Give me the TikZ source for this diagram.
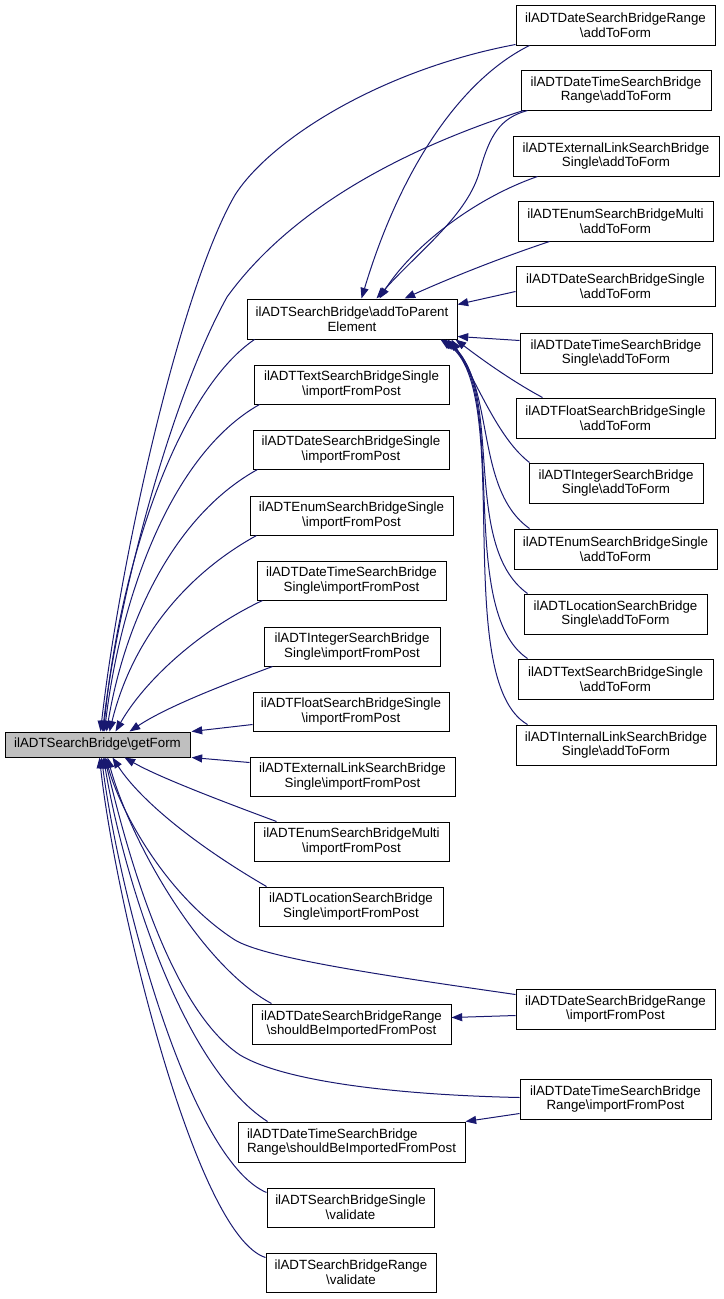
\documentclass[tikz,border=0pt]{standalone}
\usepackage{fontspec}
\setmainfont{Liberation Sans}
\usetikzlibrary{arrows.meta,calc}
\definecolor{edgeblue}{HTML}{191970}
\definecolor{gfgray}{HTML}{BFBFBF}
\tikzset{
  box/.style={draw=black, line width=0.75pt, fill=white, inner sep=0pt, align=center,
    font=\fontsize{10pt}{11pt}\selectfont},
  edge/.style={draw=edgeblue, line width=0.75pt, -{Triangle[length=8pt,width=6pt]}}
}
\newcommand\bx[7][]{\node[box,#1,minimum width={(#5-#3)*0.75pt},minimum height={(#6-#4)*0.75pt}] (#2) at ({(#3+#5)/2},{(#4+#6)/2}) {#7};}
\newcommand\bs{\textbackslash}
\begin{document}
\begin{tikzpicture}[x=0.75pt,y=-0.75pt]
\useasboundingbox (0,0) rectangle (724,1299);
% left
\bx[fill=gfgray]{gf}{5}{732}{190}{757}{ilADTSearchBridge\bs getForm}
% middle
\bx{atp}{247}{299}{457}{339}{ilADTSearchBridge\bs addToParent\\Element}
\bx{i1}{254}{365}{449}{404}{ilADTTextSearchBridgeSingle\\\bs importFromPost}
\bx{i2}{253}{430}{449}{469}{ilADTDateSearchBridgeSingle\\\bs importFromPost}
\bx{i3}{250}{496}{453}{535}{ilADTEnumSearchBridgeSingle\\\bs importFromPost}
\bx{i4}{257}{561}{446}{600}{ilADTDateTimeSearchBridge\\Single\bs importFromPost}
\bx{i5}{264}{627}{440}{666}{ilADTIntegerSearchBridge\\Single\bs importFromPost}
\bx{i6}{253}{692}{449}{731}{ilADTFloatSearchBridgeSingle\\\bs importFromPost}
\bx{i7}{250}{757}{455}{796}{ilADTExternalLinkSearchBridge\\Single\bs importFromPost}
\bx{i8}{254}{822}{449}{861}{ilADTEnumSearchBridgeMulti\\\bs importFromPost}
\bx{i9}{259}{887}{443}{926}{ilADTLocationSearchBridge\\Single\bs importFromPost}
\bx{s1}{252}{1004}{451}{1044}{ilADTDateSearchBridgeRange\\\bs shouldBeImportedFromPost}
\bx[align=left]{s2}{238}{1122}{465}{1162}{ilADTDateTimeSearchBridge\\Range\bs shouldBeImportedFromPost}
\bx{v1}{267}{1188}{434}{1227}{ilADTSearchBridgeSingle\\\bs validate}
\bx{v2}{266}{1253}{436}{1292}{ilADTSearchBridgeRange\\\bs validate}
% right
\bx{a1}{516}{5}{715}{45}{ilADTDateSearchBridgeRange\\\bs addToForm}
\bx{a2}{521}{70}{711}{110}{ilADTDateTimeSearchBridge\\Range\bs addToForm}
\bx{a3}{513}{136}{719}{176}{ilADTExternalLinkSearchBridge\\Single\bs addToForm}
\bx{a4}{518}{201}{713}{241}{ilADTEnumSearchBridgeMulti\\\bs addToForm}
\bx{a5}{516}{266}{715}{306}{ilADTDateSearchBridgeSingle\\\bs addToForm}
\bx{a6}{520}{333}{712}{373}{ilADTDateTimeSearchBridge\\Single\bs addToForm}
\bx{a7}{516}{398}{715}{438}{ilADTFloatSearchBridgeSingle\\\bs addToForm}
\bx{a8}{529}{463}{703}{503}{ilADTIntegerSearchBridge\\Single\bs addToForm}
\bx{a9}{514}{529}{717}{569}{ilADTEnumSearchBridgeSingle\\\bs addToForm}
\bx{a10}{524}{594}{707}{634}{ilADTLocationSearchBridge\\Single\bs addToForm}
\bx{a11}{518}{659}{713}{699}{ilADTTextSearchBridgeSingle\\\bs addToForm}
\bx{a12}{516}{725}{716}{765}{ilADTInternalLinkSearchBridge\\Single\bs addToForm}
\bx{r1}{516}{989}{715}{1029}{ilADTDateSearchBridgeRange\\\bs importFromPost}
\bx{r2}{520}{1079}{711}{1119}{ilADTDateTimeSearchBridge\\Range\bs importFromPost}
% edges to getForm (top)
\draw[edge] ($(a1.south west)+(0,-1)$) .. controls (380,70) and (270,140) .. (235,195) .. controls (180,290) and (120,560) .. ($(gf.north west)+(96,0)$);
\draw[edge] ($(a2.south west)+(3,0)$) .. controls (400,150) and (290,210) .. (227,297) .. controls (170,400) and (118,600) .. ($(gf.north west)+(98,0)$);
\draw[edge] ($(atp.south west)+(8,0)$) .. controls (180,390) and (120,560) .. ($(gf.north west)+(99,0)$);
\draw[edge] ($(i1.south west)+(6,0)$) .. controls (170,455) and (120,600) .. ($(gf.north west)+(100,0)$);
\draw[edge] ($(i2.south west)+(5,0)$) .. controls (175,515) and (125,620) .. ($(gf.north west)+(102,0)$);
\draw[edge] ($(i3.south west)+(7,0)$) .. controls (185,575) and (132,640) .. ($(gf.north west)+(105,0)$);
\draw[edge] ($(i4.south west)+(6,0)$) .. controls (200,630) and (145,680) .. ($(gf.north west)+(111,0)$);
\draw[edge] ($(i5.south west)+(9,0)$) .. controls (215,688) and (165,708) .. ($(gf.north west)+(125,0)$);
\draw[edge] ($(i6.south west)+(0,-7)$) -- ($(gf.north east)+(1,0)$);
% edges to getForm (bottom)
\draw[edge] ($(i7.north west)+(0,6)$) -- ($(gf.south east)+(1,0)$);
\draw[edge] ($(i8.north west)+(23,0)$) .. controls (205,795) and (155,775) .. ($(gf.south west)+(120,0)$);
\draw[edge] ($(i9.north west)+(8,0)$) .. controls (195,845) and (140,800) .. ($(gf.south west)+(108,0)$);
\draw[edge] ($(r1.north west)+(0,6)$) .. controls (380,975) and (265,958) .. (235,940) .. controls (165,895) and (120,810) .. ($(gf.south west)+(101,0)$);
\draw[edge] ($(s1.north west)+(20,0)$) .. controls (200,965) and (130,840) .. ($(gf.south west)+(103,0)$);
\draw[edge] ($(r2.north west)+(0,19)$) .. controls (400,1095) and (285,1082) .. (240,1055) .. controls (165,1005) and (122,830) .. ($(gf.south west)+(100,0)$);
\draw[edge] ($(s2.north west)+(30,0)$) .. controls (180,1065) and (122,870) .. ($(gf.south west)+(99,0)$);
\draw[edge] ($(v1.north west)+(0,5)$) .. controls (190,1160) and (120,900) .. ($(gf.south west)+(97,0)$);
\draw[edge] ($(v2.north west)+(0,5)$) .. controls (195,1235) and (115,900) .. ($(gf.south west)+(95,0)$);
% shouldBeImported edges
\draw[edge] ($(r1.north west)+(0,27)$) -- ($(s1.north east)+(0,14)$);
\draw[edge] ($(r2.north west)+(0,35)$) -- (s2.north east);
% edges to addToParentElement
\draw[edge] ($(a1.south west)+(14,0)$) .. controls (460,80) and (400,170) .. ($(atp.north west)+(115,0)$);
\draw[edge] ($(a2.south west)+(7,0)$) .. controls (500,118) and (490,135) .. (480,170) .. controls (468,215) and (420,250) .. ($(atp.north west)+(130,0)$);
\draw[edge] ($(a3.south west)+(25,0)$) .. controls (470,200) and (410,250) .. ($(atp.north west)+(133,0)$);
\draw[edge] ($(a4.south west)+(32,0)$) .. controls (500,258) and (450,278) .. ($(atp.north west)+(158,0)$);
\draw[edge] ($(a5.north west)+(0,26)$) -- ($(atp.north east)+(0,6)$);
\draw[edge] ($(a6.north west)+(0,8)$) -- ($(atp.south east)+(0,-3)$);
\draw[edge] ($(a7.north west)+(27,0)$) .. controls (510,380) and (480,358) .. ($(atp.south east)+(-2,0)$);
\draw[edge] ($(a8.north west)+(1,0)$) .. controls (500,440) and (480,390) .. ($(atp.south east)+(-6,0)$);
\draw[edge] ($(a9.north west)+(16,0)$) .. controls (475,490) and (495,390) .. ($(atp.south east)+(-10,0)$);
\draw[edge] ($(a10.north west)+(4,0)$) .. controls (460,545) and (505,390) .. ($(atp.south east)+(-13,0)$);
\draw[edge] ($(a11.north west)+(10,0)$) .. controls (455,610) and (510,390) .. ($(atp.south east)+(-15,0)$);
\draw[edge] ($(a12.north west)+(12,0)$) .. controls (450,680) and (515,390) .. ($(atp.south east)+(-17,0)$);
\end{tikzpicture}
\end{document}
